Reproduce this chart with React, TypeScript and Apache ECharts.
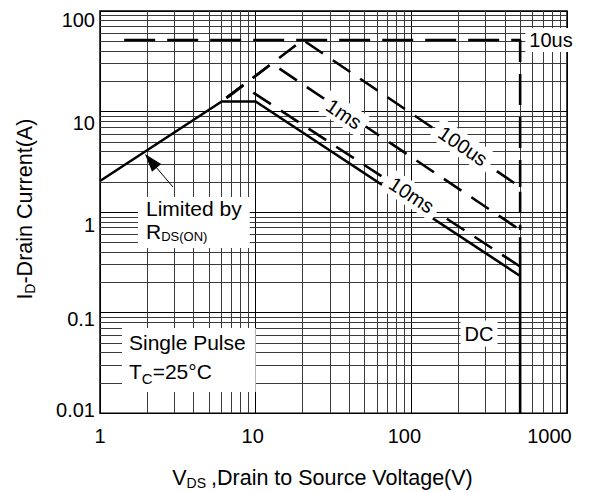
import React, { useEffect, useRef } from 'react';
import * as echarts from 'echarts';

// ---------- data ----------
const xTickLabels = ['1', '10', '100', '1000'];
const yTickLabels = ['0.01', '0.1', '1', '10', '100'];
const xDecades = [1, 10, 100];
const yDecades = [0.01, 0.1, 1, 10];
const gridMultipliers = [2, 3, 4, 5, 6, 7, 8, 9];

// [VDS (V), ID (A)]
const curveDC = [[1, 2.04], [6.05, 12.6], [10, 12.6], [500, 0.232], [500, 0.354], [500, 0.01]];
const curve10us = [[1.43, 51.5], [500, 51.5], [500, 1.78]];
const curve100us = [[6.05, 12.6], [20.1, 51.5], [500, 1.78], [500, 0.665]];
const curve1ms = [[6.05, 12.6], [12.7, 30.0], [500, 0.665], [500, 0.288]];
const curve10ms = [[6.05, 12.6], [8.23, 18.1], [500, 0.288]];

const curveLabels = ['10us', '1ms', '100us', '10ms', 'DC'];
const curveLabelV = [789, 36.9, 214.7, 100.5, 272];
const curveLabelI = [51.5, 9.46, 4.55, 1.48, 0.0621];
const curveLabelRotate = [0, -34, -34, -33, 0];

const limitedByAt = [1.754, 0.789];
const singlePulseAt = [1.384, 0.0339];
const arrowFrom = [2.94, 1.78];
const arrowTo = [2.12, 3.23];

const FONT = "'Liberation Sans', Arial, Helvetica, sans-serif";

const xMinor: number[] = [];
xDecades.forEach((d) => gridMultipliers.forEach((m) => xMinor.push(d * m)));
const yMinor: number[] = [];
yDecades.forEach((d) => gridMultipliers.forEach((m) => yMinor.push(+(d * m).toPrecision(3))));

const xLabelPad = [0, 6, 14, 35];
const yLabelPad = [[0, 0, 7, 0], [13, 0, 0, 0], [25, 0, 0, 0], [23, 0, 0, 0], [17, 0, 0, 0]];

function buildOption() {
  const xRich: any = {};
  xLabelPad.forEach((p, i) => {
    xRich['x' + i] = { fontSize: 20, fontFamily: FONT, color: '#000', padding: [0, p, 0, 0] };
  });
  const yRich: any = {};
  yLabelPad.forEach((p, i) => {
    yRich['y' + i] = { fontSize: 20, fontFamily: FONT, color: '#000', padding: p };
  });

  const curveStyle = (name: string, data: number[][], dash: any, dashOffset = 0) => ({
    type: 'line',
    name,
    data,
    symbol: 'none',
    showSymbol: false,
    silent: true,
    z: 3,
    clip: true,
    lineStyle: { color: '#000', width: 2.6, type: dash, dashOffset, cap: 'butt', opacity: 1 },
    emphasis: { disabled: true },
  });

  const notesData: any[] = curveLabels.map((t, i) => ({
    value: [curveLabelV[i], curveLabelI[i]],
    label: {
      formatter: t,
      rotate: curveLabelRotate[i],
      fontSize: 20,
      padding: i === 0 ? [2, 4, 2, 4] : i === 4 ? [3, 4, 3, 4] : [2, 6, 2, 6],
    },
  }));
  notesData.push({
    value: limitedByAt,
    label: {
      formatter: 'Limited by\n{r|R}{s|DS(ON)}',
      align: 'left',
      fontSize: 21,
      lineHeight: 23,
      padding: [0, 8, 5, 8],
      rich: {
        r: { fontSize: 21, lineHeight: 23, verticalAlign: 'middle', fontFamily: FONT, color: '#000' },
        s: { fontSize: 13, lineHeight: 12.6, verticalAlign: 'bottom', fontFamily: FONT, color: '#000' },
      },
    },
  });
  notesData.push({
    value: singlePulseAt,
    label: {
      formatter: 'Single Pulse\n{t|T}{s|C}{t|=25°C}',
      align: 'left',
      fontSize: 21,
      lineHeight: 29,
      padding: [0, 10, 6, 7],
      rich: {
        t: { fontSize: 21, lineHeight: 29, verticalAlign: 'middle', fontFamily: FONT, color: '#000' },
        s: { fontSize: 15, lineHeight: 18, verticalAlign: 'bottom', fontFamily: FONT, color: '#000' },
      },
    },
  });

  return {
    animation: false,
    backgroundColor: '#fff',
    textStyle: { fontFamily: FONT, color: '#000' },
    grid: {
      left: 100,
      top: 11,
      width: 467,
      height: 402.3,
      show: true,
      borderColor: '#000',
      borderWidth: 1.5,
      containLabel: false,
      outerBoundsMode: 'none',
    },
    xAxis: {
      type: 'log',
      logBase: 10,
      min: 1,
      max: 1000,
      axisLine: { show: false },
      axisTick: { show: false },
      splitLine: { show: true, lineStyle: { color: '#000', width: 1 } },
      axisLabel: {
        margin: 13,
        fontSize: 20,
        color: '#000',
        fontFamily: FONT,
        formatter: (v: number) => {
          const i = Math.round(Math.log10(v));
          return '{x' + i + '|' + xTickLabels[i] + '}';
        },
        rich: xRich,
      },
      name: '{a|V}{b|DS}{c|,Drain to Source Voltage(V)}',
      nameLocation: 'middle',
      nameGap: 52,
      nameTextStyle: {
        fontSize: 21.5,
        fontFamily: FONT,
        color: '#000',
        rich: {
          a: { fontSize: 21.5, lineHeight: 25, verticalAlign: 'middle', fontFamily: FONT, color: '#000' },
          b: { fontSize: 14, lineHeight: 19.8, verticalAlign: 'bottom', fontFamily: FONT, color: '#000', padding: [0, 5, 0, 0] },
          c: { fontSize: 21.5, lineHeight: 25, verticalAlign: 'middle', fontFamily: FONT, color: '#000', padding: [0, 22, 0, 0] },
        },
      },
    },
    yAxis: {
      type: 'log',
      logBase: 10,
      min: 0.01,
      max: 100,
      axisLine: { show: false },
      axisTick: { show: false },
      splitLine: { show: true, lineStyle: { color: '#000', width: 1 } },
      axisLabel: {
        margin: 5,
        fontSize: 20,
        color: '#000',
        fontFamily: FONT,
        formatter: (v: number) => {
          const i = Math.round(Math.log10(v)) + 2;
          return '{y' + i + '|' + yTickLabels[i] + '}';
        },
        rich: yRich,
      },
      name: '{a|I}{b|D}{c|-Drain Current(A)}',
      nameLocation: 'middle',
      nameRotate: 90,
      nameGap: 63,
      nameTextStyle: {
        fontSize: 21.5,
        fontFamily: FONT,
        color: '#000',
        rich: {
          a: { fontSize: 21.5, lineHeight: 25, verticalAlign: 'middle', fontFamily: FONT, color: '#000', padding: [0, 0, 0, 6] },
          b: { fontSize: 14, lineHeight: 19.8, verticalAlign: 'bottom', fontFamily: FONT, color: '#000' },
          c: { fontSize: 21.5, lineHeight: 25, verticalAlign: 'middle', fontFamily: FONT, color: '#000' },
        },
      },
    },
    series: [
      {
        type: 'line',
        name: 'grid',
        data: [],
        silent: true,
        z: 1,
        markLine: {
          silent: true,
          z: 1,
          symbol: ['none', 'none'],
          label: { show: false },
          emphasis: { disabled: true },
          lineStyle: { color: '#3a3a3a', width: 1, type: 'solid', opacity: 1 },
          data: [
            ...xMinor.map((v) => ({ xAxis: v })),
            ...yMinor.map((v) => ({ yAxis: v })),
          ],
        },
      },
      curveStyle('DC', curveDC, 'solid'),
      curveStyle('10us', curve10us, [31, 12]),
      curveStyle('100us', curve100us, [21, 12], 27),
      curveStyle('1ms', curve1ms, [21, 12], 27),
      curveStyle('10ms', curve10ms, [21, 12], 27),
      {
        type: 'scatter',
        name: 'notes',
        z: 10,
        silent: true,
        symbolSize: 1,
        itemStyle: { color: 'transparent', opacity: 1 },
        label: {
          show: true,
          position: 'inside',
          color: '#000',
          opacity: 1,
          fontFamily: FONT,
          backgroundColor: '#ffffff',
        },
        emphasis: { disabled: true },
        data: notesData,
        markLine: {
          silent: true,
          z: 11,
          symbol: ['none', 'triangle'],
          symbolSize: [12, 18],
          label: { show: false },
          emphasis: { disabled: true },
          lineStyle: { color: '#000', width: 1, type: 'solid', opacity: 1 },
          data: [[{ coord: arrowFrom }, { coord: arrowTo }]],
        },
      },
    ],
  };
}

export default function App() {
  const ref = useRef<HTMLDivElement>(null);
  useEffect(() => {
    if (!ref.current) return;
    const chart = echarts.init(ref.current, null, { renderer: 'svg' });
    chart.setOption(buildOption() as any);
    return () => chart.dispose();
  }, []);
  return (
    <div
      ref={ref}
      style={{ position: 'absolute', left: 0, top: 0, width: 589, height: 492, background: '#fff' }}
    />
  );
}
